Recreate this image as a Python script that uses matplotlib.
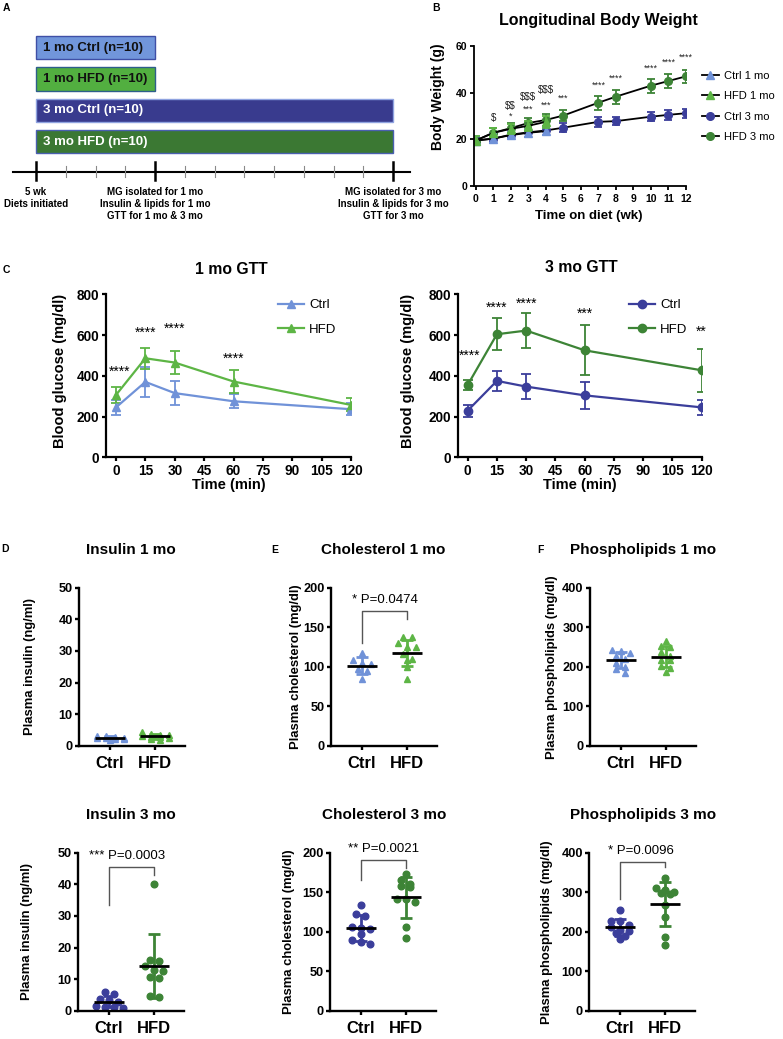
import numpy as np
import matplotlib
matplotlib.use("Agg")
import matplotlib.pyplot as plt
from matplotlib.lines import Line2D

plt.rcParams["font.family"] = ["Liberation Sans", "DejaVu Sans"]
plt.rcParams["font.weight"] = "bold"
plt.rcParams["axes.labelweight"] = "bold"
plt.rcParams["text.parse_math"] = False

LBLUE = "#7092D8"
LGREEN = "#5DB545"
DBLUE = "#3B3E9B"
DGREEN = "#3D8436"

# ---- panel A: study design
groups = ["1 mo Ctrl (n=10)", "1 mo HFD (n=10)", "3 mo Ctrl (n=10)", "3 mo HFD (n=10)"]
diet_weeks = [4, 4, 12, 12]
note_weeks = [0, 4, 12]
notes = ["5 wk\nDiets initiated",
         "MG isolated for 1 mo\nInsulin & lipids for 1 mo\nGTT for 1 mo & 3 mo",
         "MG isolated for 3 mo\nInsulin & lipids for 3 mo\nGTT for 3 mo"]

# ---- panel B: body weight (mean, SD)
wk_1mo = [0, 1, 2, 3, 4]
wk_3mo = [0, 1, 2, 3, 4, 5, 7, 8, 10, 11, 12]
bw_ctrl_1mo = [19.5, 20.3, 21.8, 22.8, 23.5]
bw_ctrl_1mo_sd = [1.8, 1.8, 1.8, 1.8, 1.8]
bw_hfd_1mo = [19.5, 22.8, 24.5, 25.8, 27.5]
bw_hfd_1mo_sd = [2.0, 2.0, 2.0, 2.2, 2.5]
bw_ctrl_3mo = [19.5, 20.3, 22.0, 23.0, 23.8, 25.0, 27.5, 27.8, 29.7, 30.5, 31.2]
bw_ctrl_3mo_sd = [1.5, 1.5, 1.5, 1.8, 1.8, 1.8, 2.0, 1.8, 2.0, 2.0, 2.0]
bw_hfd_3mo = [19.5, 22.8, 24.8, 27.0, 28.3, 30.2, 35.7, 38.3, 43.0, 45.0, 47.0]
bw_hfd_3mo_sd = [2.0, 2.0, 2.2, 2.2, 2.5, 2.5, 3.0, 3.0, 3.0, 3.2, 2.8]
bw_sig_wk = [1, 2, 2, 3, 3, 4, 4, 5, 7, 8, 10, 11, 12]
bw_sig_txt = ["$", "$$", "*", "$$$", "***", "$$$", "***", "***", "****", "****", "****", "****", "****"]
bw_sig_y = [29.0, 34.5, 30.0, 38.0, 33.0, 41.0, 34.5, 37.5, 43.0, 46.0, 50.5, 53.0, 55.0]

# ---- panel C: GTT (mean, SD)
gtt_t = [0, 15, 30, 60, 120]
gtt1_ctrl = [245, 370, 315, 275, 236]
gtt1_ctrl_sd = [35, 75, 58, 35, 30]
gtt1_hfd = [306, 486, 465, 372, 257]
gtt1_hfd_sd = [38, 52, 55, 55, 32]
gtt1_sig_t = [2, 15, 30, 60]
gtt1_sig_y = [418, 611, 630, 482]
gtt1_sig_txt = ["****", "****", "****", "****"]
gtt3_ctrl = [229, 375, 347, 304, 245]
gtt3_ctrl_sd = [30, 48, 63, 68, 35]
gtt3_hfd = [355, 604, 622, 525, 427]
gtt3_hfd_sd = [25, 78, 87, 123, 105]
gtt3_sig_t = [1, 15, 30, 60, 120]
gtt3_sig_y = [498, 736, 752, 706, 616]
gtt3_sig_txt = ["****", "****", "****", "***", "**"]

# ---- panels D-F: individual animals
ins1_ctrl = [3.2, 3.1, 2.6, 2.5, 2.4, 2.3, 2.1, 2.0, 1.8]
ins1_hfd = [4.4, 3.8, 3.5, 3.3, 3.0, 2.8, 2.6, 2.5, 2.2, 1.8]
chol1_ctrl = [117, 109, 105, 103, 97, 95, 84]
chol1_hfd = [138, 137, 130, 125, 125, 116, 110, 109, 100, 85]
phos1_ctrl = [243, 240, 235, 226, 219, 210, 200, 193, 185]
phos1_hfd = [266, 252, 250, 238, 228, 218, 216, 202, 196, 186]
ins3_ctrl = [6.0, 5.2, 3.6, 3.4, 2.8, 1.5, 1.3, 1.2, 1.0]
ins3_hfd = [40.1, 16.2, 15.6, 14.0, 12.9, 12.5, 10.8, 10.5, 4.6, 4.3]
chol3_ctrl = [134, 122, 120, 106, 105, 104, 97, 89, 87, 85]
chol3_hfd = [173, 166, 161, 158, 156, 142, 141, 138, 106, 92]
phos3_ctrl = [255, 228, 226, 218, 212, 205, 203, 196, 190, 181]
phos3_hfd = [337, 310, 305, 300, 297, 295, 268, 238, 187, 167]
categories = ["Ctrl", "HFD"]

W, H = 783, 1039
fig = plt.figure(figsize=(W / 100, H / 100), dpi=100)


def add_ax(l, t, r, b):
    return fig.add_axes([l / W, 1 - b / H, (r - l) / W, (b - t) / H])


def ptext(x, y, s, **kw):
    fig.text(x / W, 1 - y / H, s, ha=kw.pop("ha", "center"), va=kw.pop("va", "center"), **kw)


def prism(ax, lw=1.5, size=9.5):
    for side in ["top", "right"]:
        ax.spines[side].set_visible(False)
    for side in ["left", "bottom"]:
        ax.spines[side].set_linewidth(lw)
    ax.tick_params(direction="out", length=3.2, width=lw, labelsize=size, pad=1.5)
    for lab in ax.get_xticklabels() + ax.get_yticklabels():
        lab.set_fontweight("bold")


# panel letters
for s, x, y in [("A", 6, 8), ("B", 436, 8), ("C", 6, 270), ("D", 5, 549), ("E", 275, 550), ("F", 540, 550)]:
    ptext(x, y, s, fontsize=7.5, weight="bold")

# ---------------- A
ax = add_ax(0, 0, 420, 225)
px_wk = 29.75
ax.set_xlim(-36 / px_wk, (420 - 36) / px_wk)
ax.set_ylim(225, 0)
ax.axis("off")
rows = 47.7 + 31.3 * np.arange(len(groups))
fills = ["#7196DB", "#52AF40", "#393B8E", "#3B7833"]
edges = ["#3F4FA6", "#2E5E8C", "#8FA3E0", "#4A60B0"]
tcol = ["#111111", "#111111", "white", "white"]
ax.barh(rows, diet_weeks, left=0, height=23.5, color=fills, edgecolor=edges, linewidth=1)
for r, g, c in zip(rows, groups, tcol):
    ax.text(0.23, r, g, color=c, fontsize=9.5, weight="bold", va="center", ha="left")
ax.plot([-0.78, 12.57], [171.7, 171.7], color="black", lw=1.5)
for w in range(13):
    if w in note_weeks:
        ax.plot([w, w], [161.7, 180], color="black", lw=1.8)
    else:
        ax.plot([w, w], [165.7, 176.7], color="#8a8a8a", lw=0.8)
for w, n in zip(note_weeks, notes):
    ax.text(w, 187, n, ha="center", va="top", fontsize=7, weight="bold", linespacing=1.25)

# ---------------- B
ax = add_ax(474, 46, 686, 186)
series = [
    (wk_3mo, bw_ctrl_3mo, bw_ctrl_3mo_sd, DBLUE, "o", "Ctrl 3 mo"),
    (wk_3mo, bw_hfd_3mo, bw_hfd_3mo_sd, DGREEN, "o", "HFD 3 mo"),
    (wk_1mo, bw_ctrl_1mo, bw_ctrl_1mo_sd, LBLUE, "^", "Ctrl 1 mo"),
    (wk_1mo, bw_hfd_1mo, bw_hfd_1mo_sd, LGREEN, "^", "HFD 1 mo"),
]
handles = {}
for x, m, sd, c, mk, lab in series:
    ax.errorbar(x, m, yerr=sd, fmt="none", ecolor=c, elinewidth=1.3, capsize=3, capthick=1.3)
    handles[lab], = ax.plot(x, m, color="black", lw=1.3, marker=mk, ms=5.5, mfc=c, mec=c, label=lab)
for w, s, y in zip(bw_sig_wk, bw_sig_txt, bw_sig_y):
    ax.text(w, y, s, ha="center", va="center", fontsize=7 if "$" in s else 6.5, weight="normal", color="#222222")
ax.set_xlim(-0.1, 12)
ax.set_ylim(0, 60)
ax.set_xticks(range(13))
ax.set_yticks([0, 20, 40, 60])
prism(ax, lw=1.3, size=7.5)
ax.tick_params(axis="x", pad=2.5)
ax.set_ylabel("Body Weight (g)", fontsize=10, va="center")
ax.yaxis.set_label_coords((438 - 474) / 212, (186 - 97) / 140)
ax.set_xlabel("Time on diet (wk)", fontsize=9.5, va="center")
ax.xaxis.set_label_coords((589 - 474) / 212, -(216 - 186) / 140)
order = ["Ctrl 1 mo", "HFD 1 mo", "Ctrl 3 mo", "HFD 3 mo"]
ax.legend([handles[k] for k in order], order, loc="upper left", bbox_to_anchor=(1.075, 0.825),
          frameon=False, prop={"weight": "normal", "size": 8}, handlelength=1.5,
          labelspacing=0.95, handletextpad=0.5, borderaxespad=0, borderpad=0)
ptext(598, 20, "Longitudinal Body Weight", fontsize=11.5, weight="bold")


# ---------------- C
def gtt_panel(box, ctrl, ctrl_sd, hfd, hfd_sd, cc, ch, mk, sig_t, sig_y, sig_txt, title, tpos, ylab_x):
    l, t, r, b = box
    ax = add_ax(l, t, r, b)
    for m, sd, c in [(ctrl, ctrl_sd, cc), (hfd, hfd_sd, ch)]:
        ax.errorbar(gtt_t, m, yerr=sd, color=c, marker=mk, ms=6, lw=1.6, capsize=3.5,
                    capthick=1.3, elinewidth=1.3)
    for x, y, s in zip(sig_t, sig_y, sig_txt):
        ax.text(x, y, s, ha="center", va="center", fontsize=10, weight="normal")
    ax.set_xlim(-(10.0 / 1.958), 120)
    ax.set_ylim(0, 800)
    ax.set_xticks(range(0, 121, 15))
    ax.set_yticks(range(0, 801, 200))
    prism(ax, lw=1.6, size=9.8)
    ax.set_ylabel("Blood glucose (mg/dl)", fontsize=10.5, va="center")
    ax.yaxis.set_label_coords((ylab_x - l) / (r - l), 0.53)
    ax.set_xlabel("Time (min)", fontsize=10.5, va="center")
    ax.xaxis.set_label_coords(0.5, -(485 - b) / (b - t))
    hl = [Line2D([], [], color=c, marker=mk, ms=6, lw=1.6) for c in (cc, ch)]
    ax.legend(hl, ["Ctrl", "HFD"], loc="upper left", bbox_to_anchor=(0.7, 0.97), frameon=False,
              prop={"weight": "normal", "size": 9.5}, handlelength=2.0, labelspacing=0.9,
              handletextpad=0.4, borderaxespad=0, borderpad=0)
    ptext(tpos[0], tpos[1], title, fontsize=11.3, weight="bold")


gtt_panel((106, 294.3, 351, 457.3), gtt1_ctrl, gtt1_ctrl_sd, gtt1_hfd, gtt1_hfd_sd, LBLUE, LGREEN, "^",
          gtt1_sig_t, gtt1_sig_y, gtt1_sig_txt, "1 mo GTT", (231, 269), 60)
gtt_panel((457.7, 294.3, 701.7, 457.3), gtt3_ctrl, gtt3_ctrl_sd, gtt3_hfd, gtt3_hfd_sd, DBLUE, DGREEN, "o",
          gtt3_sig_t, gtt3_sig_y, gtt3_sig_txt, "3 mo GTT", (581, 268), 408)


# ---------------- D-F
def swarm(vals, tol, step, maxrow=4):
    # rows of near-equal values, centred like a scatter dot plot
    order = np.argsort(-np.asarray(vals))
    xs = np.zeros(len(vals))
    row = []
    for idx in list(order) + [None]:
        if idx is not None and row and abs(vals[idx] - vals[row[0]]) < tol and len(row) < maxrow:
            row.append(idx)
            continue
        if row:
            offs = (np.arange(len(row)) - (len(row) - 1) / 2) * step
            for j, o in zip(row, offs):
                xs[j] = o
        row = [idx] if idx is not None else []
    return xs


def dot_panel(ctrl_px, top, ctrl, hfd, colors, mk, ymax, ystep, title, title_px, ylab, ylab_dx, sig=None):
    l, r = ctrl_px - 0.68 * 45, ctrl_px + 1.67 * 45
    b = top + 158
    ax = add_ax(l, top, r, b)
    tol = ymax * 5.0 / 158
    for i, (vals, c) in enumerate(zip([ctrl, hfd], colors)):
        vals = np.asarray(vals, float)
        xs = i + swarm(vals, tol, 0.2)
        ax.plot(xs, vals, ls="none", marker=mk, ms=4.8, color=c, zorder=2)
        m, sd = vals.mean(), vals.std(ddof=1)
        ax.errorbar(i, m, yerr=sd, fmt="none", ecolor=c, elinewidth=2, capsize=4.5, capthick=2, zorder=3)
        ax.hlines(m, i - 0.33, i + 0.33, color="black", lw=2, zorder=4)
    if sig:
        txt, top_y, left_y, right_y, tx = sig
        ax.plot([0, 0, 1, 1], [left_y, top_y, top_y, right_y], color="#555555", lw=1)
        ax.text(tx, top_y + ymax * 0.07, txt, ha="center", va="center", fontsize=9.5, weight="normal")
    ax.set_xlim(-0.68, 1.67)
    ax.set_ylim(0, ymax)
    ax.set_xticks([0, 1])
    ax.set_xticklabels(categories)
    ax.set_yticks(np.arange(0, ymax + 1, ystep))
    prism(ax, lw=1.7, size=9.2)
    ax.tick_params(axis="x", labelsize=12, pad=4.5)
    for lab in ax.get_xticklabels():
        lab.set_fontweight("bold")
    ax.set_ylabel(ylab, fontsize=9.4, va="center")
    ax.yaxis.set_label_coords(ylab_dx / (r - l), 0.5)
    ptext(title_px, top - 37.5, title, fontsize=11, weight="bold")


dot_panel(110, 587.7, ins1_ctrl, ins1_hfd, [LBLUE, LGREEN], "^", 50, 10, "Insulin 1 mo", 131,
          "Plasma insulin (ng/ml)", -49)
dot_panel(362, 587.7, chol1_ctrl, chol1_hfd, [LBLUE, LGREEN], "^", 200, 50, "Cholesterol 1 mo", 383,
          "Plasma cholesterol (mg/dl)", -35, ("* P=0.0474", 170, 129.5, 160, 0.5))
dot_panel(620.7, 587.7, phos1_ctrl, phos1_hfd, [LBLUE, LGREEN], "^", 400, 100, "Phospholipids 1 mo", 643,
          "Plasma phospholipids (mg/dl)", -38)
dot_panel(109, 852.7, ins3_ctrl, ins3_hfd, [DBLUE, DGREEN], "o", 50, 10, "Insulin 3 mo", 131,
          "Plasma insulin (ng/ml)", -51, ("*** P=0.0003", 45.4, 33.4, 43, 0.4))
dot_panel(361, 852.7, chol3_ctrl, chol3_hfd, [DBLUE, DGREEN], "o", 200, 50, "Cholesterol 3 mo", 384,
          "Plasma cholesterol (mg/dl)", -41, ("** P=0.0021", 190.7, 166, 181, 0.5))
dot_panel(620, 852.7, phos3_ctrl, phos3_hfd, [DBLUE, DGREEN], "o", 400, 100, "Phospholipids 3 mo", 643,
          "Plasma phospholipids (mg/dl)", -42, ("* P=0.0096", 375.5, 283, 363, 0.46))

fig.savefig("out.png", dpi=100)
